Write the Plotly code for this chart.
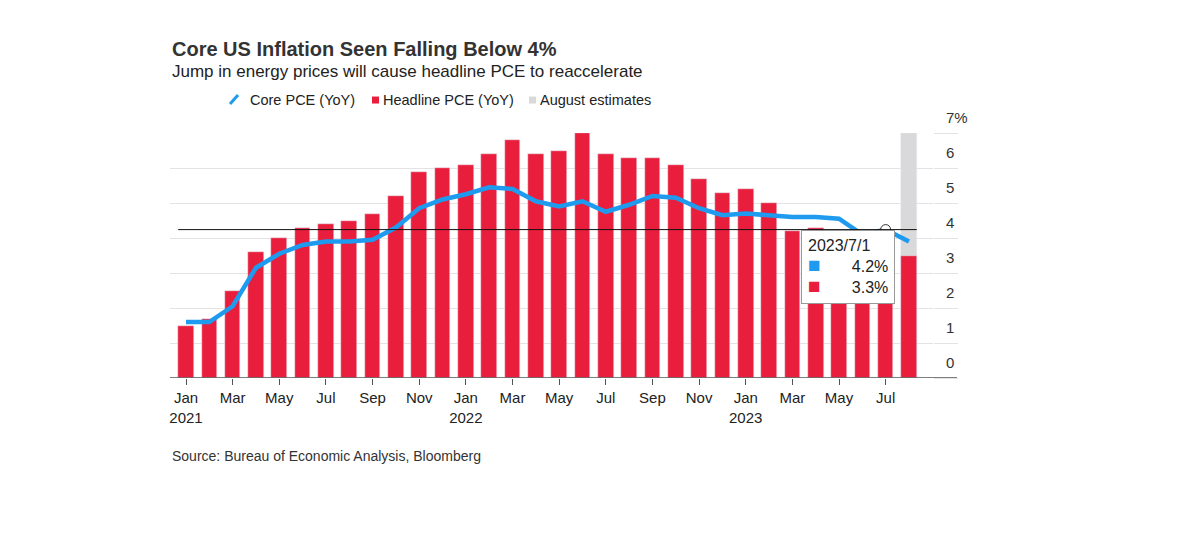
import plotly.graph_objects as go

# Monthly data, Jan 2021 - Aug 2023
months = [f"{y}-{m:02d}" for y in (2021, 2022, 2023) for m in range(1, 13)][:32]

headline_pce = [1.5, 1.7, 2.5, 3.6, 4.0, 4.3, 4.4, 4.5, 4.7, 5.2, 5.9, 6.0,
                6.1, 6.4, 6.8, 6.4, 6.5, 7.0, 6.4, 6.3, 6.3, 6.1, 5.7, 5.3,
                5.4, 5.0, 4.2, 4.3, 3.8, 3.0, 3.3, 3.5]

core_pce = [1.6, 1.6, 2.05, 3.15, 3.55, 3.8, 3.9, 3.9, 3.95, 4.3, 4.85, 5.1,
            5.25, 5.45, 5.4, 5.05, 4.9, 5.05, 4.75, 4.95, 5.2, 5.15, 4.85, 4.65,
            4.7, 4.65, 4.6, 4.6, 4.55, 4.1, 4.24, 3.9]

estimate_month = ["2023-08"]
estimate_band = [7]

month_names = ["Jan", "Feb", "Mar", "Apr", "May", "Jun",
               "Jul", "Aug", "Sep", "Oct", "Nov", "Dec"]
tick_vals = months[::2]
tick_text = []
for m in tick_vals:
    yr, mo = m.split("-")
    name = month_names[int(mo) - 1]
    tick_text.append(f"{name}<br>{yr}" if mo == "01" else name)

y_vals = [0, 1, 2, 3, 4, 5, 6, 7]
y_text = ["0", "1", "2", "3", "4", "5", "6", "7%"]

RED = "#e91e3c"
BLUE = "#1e9bef"
GRAY = "#d9d9d9"
GRID = "#e3e3e3"
FONT = "Liberation Sans, Arial, sans-serif"

# plot box in page pixels (page has an 8px body margin)
PL, PR, PT, PB = 170, 933, 133, 378.3


def px(x):
    return (x - PL) / (PR - PL)


def py(y):
    return (PB - y) / (PB - PT)


fig = go.Figure()

# grey band behind the August estimate
fig.add_trace(go.Bar(x=estimate_month, y=estimate_band, name="August estimates",
                     marker_color=GRAY, width=0.67, hoverinfo="skip"))

fig.add_trace(go.Bar(x=months, y=headline_pce, name="Headline PCE (YoY)",
                     marker_color=RED, width=0.67))

fig.add_trace(go.Scatter(x=months, y=core_pce, name="Core PCE (YoY)", mode="lines",
                         line=dict(color=BLUE, width=4.5)))

# hovered point (Jul 2023)
hx, hy = months[-2], core_pce[-2]
fig.add_trace(go.Scatter(x=[hx], y=[hy], mode="markers", showlegend=False,
                         marker=dict(size=10, color="white",
                                     line=dict(color="#333", width=1))))

shapes = [
    # crosshair at hovered value
    dict(type="line", xref="x", yref="y", x0=-0.335, x1=len(months) - 1 + 0.335,
         y0=hy, y1=hy, line=dict(color="#111", width=1), layer="above"),
    # baseline, runs under the value labels
    dict(type="line", xref="paper", yref="y", x0=0, x1=px(957), y0=0, y1=0,
         line=dict(color="#555", width=1.5), layer="above"),
    # legend keys
    dict(type="line", xref="paper", yref="paper", x0=px(230), x1=px(238),
         y0=py(104), y1=py(95), line=dict(color=BLUE, width=3)),
    dict(type="rect", xref="paper", yref="paper", x0=px(372), x1=px(379),
         y0=py(103.5), y1=py(96.5), fillcolor=RED, line_width=0),
    dict(type="rect", xref="paper", yref="paper", x0=px(529), x1=px(536),
         y0=py(103.5), y1=py(96.5), fillcolor=GRAY, line_width=0),
]

annotations = [
    dict(x=px(170), y=py(49), text="<b>Core US Inflation Seen Falling Below 4%</b>",
         font=dict(size=20, color="#333")),
    dict(x=px(170), y=py(71),
         text="Jump in energy prices will cause headline PCE to reaccelerate",
         font=dict(size=17, color="#222")),
    dict(x=px(248), y=py(100), text="Core PCE (YoY)", font=dict(size=14.5, color="#222")),
    dict(x=px(381), y=py(100), text="Headline PCE (YoY)", font=dict(size=14.5, color="#222")),
    dict(x=px(538), y=py(100), text="August estimates", font=dict(size=14.5, color="#222")),
    dict(x=px(170), y=py(456), text="Source: Bureau of Economic Analysis, Bloomberg",
         font=dict(size=14, color="#333")),
]
for a in annotations:
    a.update(xref="paper", yref="paper", xanchor="left", yanchor="middle",
             showarrow=False)
    a["font"]["family"] = FONT

# tooltip box
gap = "&nbsp;" * 7
annotations.append(dict(
    x=hx, y=hy, xref="x", yref="y", xanchor="right", yanchor="top",
    xshift=9, yshift=0, showarrow=False, align="left",
    text=(f"2023/7/1<br>"
          f"<span style='color:{BLUE};font-size:21px'>■</span>{gap}{core_pce[-2]:.1f}%<br>"
          f"<span style='color:{RED};font-size:21px'>■</span>{gap}{headline_pce[-2]:.1f}%"),
    font=dict(family=FONT, size=16, color="#222"),
    bgcolor="white", bordercolor="#999", borderwidth=1, borderpad=6
))

W, H = 1184, 527
fig.update_layout(
    width=W, height=H,
    margin=dict(l=PL - 8, r=W - (PR - 8), t=PT - 8, b=H - (PB - 8)),
    paper_bgcolor="white", plot_bgcolor="white",
    barmode="overlay", bargap=0,
    font=dict(family=FONT, size=15, color="#222"),
    showlegend=False,
    shapes=shapes, annotations=annotations,
    hovermode="x"
)

fig.update_xaxes(
    type="category", categoryorder="array", categoryarray=months,
    range=[-0.686, 32.03],
    tickvals=tick_vals, ticktext=tick_text,
    ticks="outside", ticklen=6, tickcolor="#555",
    showline=False, showgrid=False, tickfont=dict(size=15, color="#222")
)

fig.update_yaxes(
    range=[0, 7], side="right", tickvals=y_vals, ticktext=y_text,
    ticks="outside", ticklen=24, tickcolor=GRID,
    ticklabelposition="outside top", ticklabelstandoff=9, ticklabelshift=-4,
    showgrid=True, gridcolor=GRID, gridwidth=1, zeroline=False, showline=False,
    tickfont=dict(size=15, color="#333")
)

fig.write_html("out.html")
